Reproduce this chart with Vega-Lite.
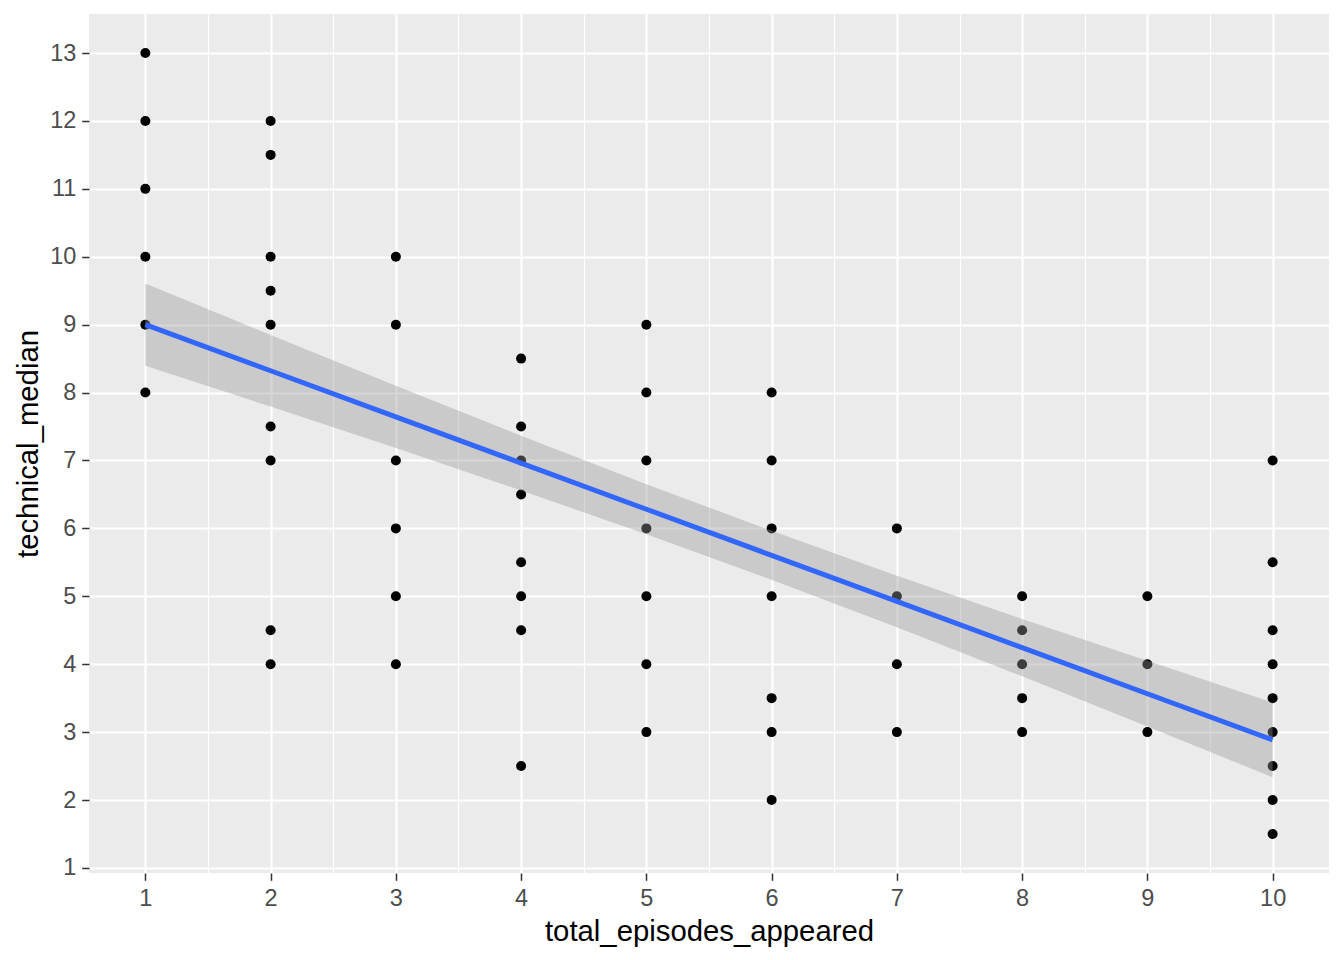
{
  "$schema": "https://vega.github.io/schema/vega-lite/v6.json",
  "autosize": "none",
  "width": 1240,
  "height": 859,
  "padding": {"left": 89, "top": 14, "right": 15, "bottom": 87},
  "background": "white",
  "config": {
    "view": {"fill": "#EBEBEB", "stroke": null},
    "font": "Liberation Sans",
    "axis": {
      "domain": false,
      "labelFont": "Liberation Sans",
      "titleFont": "Liberation Sans",
      "labelFontSize": 23.5,
      "labelColor": "#4D4D4D",
      "titleFontSize": 29.3,
      "titleFontWeight": "normal",
      "titleColor": "#000000",
      "tickColor": "#333333",
      "tickSize": 7.3,
      "tickWidth": 1.5,
      "labelPadding": 5.9,
      "gridColor": "#FFFFFF",
      "gridOpacity": 1,
      "format": "d"
    }
  },
  "datasets": {
    "pts": [
      {"total_episodes_appeared": 1, "technical_median": 13},
      {"total_episodes_appeared": 1, "technical_median": 12},
      {"total_episodes_appeared": 1, "technical_median": 11},
      {"total_episodes_appeared": 1, "technical_median": 10},
      {"total_episodes_appeared": 1, "technical_median": 9},
      {"total_episodes_appeared": 1, "technical_median": 8},
      {"total_episodes_appeared": 2, "technical_median": 12},
      {"total_episodes_appeared": 2, "technical_median": 11.5},
      {"total_episodes_appeared": 2, "technical_median": 10},
      {"total_episodes_appeared": 2, "technical_median": 9.5},
      {"total_episodes_appeared": 2, "technical_median": 9},
      {"total_episodes_appeared": 2, "technical_median": 7.5},
      {"total_episodes_appeared": 2, "technical_median": 7},
      {"total_episodes_appeared": 2, "technical_median": 4.5},
      {"total_episodes_appeared": 2, "technical_median": 4},
      {"total_episodes_appeared": 3, "technical_median": 10},
      {"total_episodes_appeared": 3, "technical_median": 9},
      {"total_episodes_appeared": 3, "technical_median": 7},
      {"total_episodes_appeared": 3, "technical_median": 6},
      {"total_episodes_appeared": 3, "technical_median": 5},
      {"total_episodes_appeared": 3, "technical_median": 4},
      {"total_episodes_appeared": 4, "technical_median": 8.5},
      {"total_episodes_appeared": 4, "technical_median": 7.5},
      {"total_episodes_appeared": 4, "technical_median": 7},
      {"total_episodes_appeared": 4, "technical_median": 6.5},
      {"total_episodes_appeared": 4, "technical_median": 5.5},
      {"total_episodes_appeared": 4, "technical_median": 5},
      {"total_episodes_appeared": 4, "technical_median": 4.5},
      {"total_episodes_appeared": 4, "technical_median": 2.5},
      {"total_episodes_appeared": 5, "technical_median": 9},
      {"total_episodes_appeared": 5, "technical_median": 8},
      {"total_episodes_appeared": 5, "technical_median": 7},
      {"total_episodes_appeared": 5, "technical_median": 6},
      {"total_episodes_appeared": 5, "technical_median": 5},
      {"total_episodes_appeared": 5, "technical_median": 4},
      {"total_episodes_appeared": 5, "technical_median": 3},
      {"total_episodes_appeared": 6, "technical_median": 8},
      {"total_episodes_appeared": 6, "technical_median": 7},
      {"total_episodes_appeared": 6, "technical_median": 6},
      {"total_episodes_appeared": 6, "technical_median": 5},
      {"total_episodes_appeared": 6, "technical_median": 3.5},
      {"total_episodes_appeared": 6, "technical_median": 3},
      {"total_episodes_appeared": 6, "technical_median": 2},
      {"total_episodes_appeared": 7, "technical_median": 6},
      {"total_episodes_appeared": 7, "technical_median": 5},
      {"total_episodes_appeared": 7, "technical_median": 4},
      {"total_episodes_appeared": 7, "technical_median": 3},
      {"total_episodes_appeared": 8, "technical_median": 5},
      {"total_episodes_appeared": 8, "technical_median": 4.5},
      {"total_episodes_appeared": 8, "technical_median": 4},
      {"total_episodes_appeared": 8, "technical_median": 3.5},
      {"total_episodes_appeared": 8, "technical_median": 3},
      {"total_episodes_appeared": 9, "technical_median": 5},
      {"total_episodes_appeared": 9, "technical_median": 4},
      {"total_episodes_appeared": 9, "technical_median": 3},
      {"total_episodes_appeared": 10, "technical_median": 7},
      {"total_episodes_appeared": 10, "technical_median": 5.5},
      {"total_episodes_appeared": 10, "technical_median": 4.5},
      {"total_episodes_appeared": 10, "technical_median": 4},
      {"total_episodes_appeared": 10, "technical_median": 3.5},
      {"total_episodes_appeared": 10, "technical_median": 3},
      {"total_episodes_appeared": 10, "technical_median": 2.5},
      {"total_episodes_appeared": 10, "technical_median": 2},
      {"total_episodes_appeared": 10, "technical_median": 1.5}
    ],
    "fit": [
      {"total_episodes_appeared": 1, "fit": 9.0, "lo": 8.395, "hi": 9.605},
      {"total_episodes_appeared": 2, "fit": 8.321, "lo": 7.794, "hi": 8.848},
      {"total_episodes_appeared": 3, "fit": 7.641, "lo": 7.183, "hi": 8.099},
      {"total_episodes_appeared": 4, "fit": 6.962, "lo": 6.559, "hi": 7.365},
      {"total_episodes_appeared": 5, "fit": 6.282, "lo": 5.913, "hi": 6.651},
      {"total_episodes_appeared": 6, "fit": 5.603, "lo": 5.242, "hi": 5.964},
      {"total_episodes_appeared": 7, "fit": 4.924, "lo": 4.544, "hi": 5.304},
      {"total_episodes_appeared": 8, "fit": 4.244, "lo": 3.821, "hi": 4.667},
      {"total_episodes_appeared": 9, "fit": 3.565, "lo": 3.081, "hi": 4.049},
      {"total_episodes_appeared": 10, "fit": 2.885, "lo": 2.335, "hi": 3.435}
    ]
  },
  "layer": [
    {
      "data": {"name": "pts"},
      "mark": {"type": "circle", "color": "#000000", "opacity": 1, "size": 100},
      "encoding": {
        "x": {
          "field": "total_episodes_appeared",
          "type": "quantitative",
          "title": "total_episodes_appeared",
          "scale": {"domain": [0.55, 10.45], "nice": false, "zero": false},
          "axis": {
            "values": [1, 1.5, 2, 2.5, 3, 3.5, 4, 4.5, 5, 5.5, 6, 6.5, 7, 7.5, 8, 8.5, 9, 9.5, 10],
            "labelExpr": "datum.value % 1 != 0 ? '' : datum.label",
            "grid": true,
            "gridWidth": {"condition": {"test": "datum.value % 1 != 0", "value": 1.2}, "value": 2.2},
            "tickOpacity": {"condition": {"test": "datum.value % 1 != 0", "value": 0}, "value": 1},
            "titlePadding": 8
          }
        },
        "y": {
          "field": "technical_median",
          "type": "quantitative",
          "title": "technical_median",
          "scale": {"domain": [0.925, 13.575], "nice": false, "zero": false},
          "axis": {
            "values": [1, 1.5, 2, 2.5, 3, 3.5, 4, 4.5, 5, 5.5, 6, 6.5, 7, 7.5, 8, 8.5, 9, 9.5, 10, 10.5, 11, 11.5, 12, 12.5, 13, 13.5],
            "labelExpr": "datum.value % 1 != 0 ? '' : datum.label",
            "grid": true,
            "gridWidth": {"condition": {"test": "datum.value % 1 != 0", "value": 1.2}, "value": 2.2},
            "tickOpacity": {"condition": {"test": "datum.value % 1 != 0", "value": 0}, "value": 1},
            "titlePadding": 6
          }
        }
      }
    },
    {
      "data": {"name": "fit"},
      "mark": {"type": "area", "color": "#999999", "opacity": 0.4},
      "encoding": {
        "x": {"field": "total_episodes_appeared", "type": "quantitative", "title": "total_episodes_appeared", "scale": {"domain": [0.55, 10.45], "nice": false, "zero": false}},
        "y": {"field": "lo", "type": "quantitative", "title": "technical_median", "scale": {"domain": [0.925, 13.575], "nice": false, "zero": false}},
        "y2": {"field": "hi"}
      }
    },
    {
      "data": {"name": "fit"},
      "mark": {"type": "line", "color": "#3366FF", "strokeWidth": 5},
      "encoding": {
        "x": {"field": "total_episodes_appeared", "type": "quantitative", "title": "total_episodes_appeared", "scale": {"domain": [0.55, 10.45], "nice": false, "zero": false}},
        "y": {"field": "fit", "type": "quantitative", "title": "technical_median", "scale": {"domain": [0.925, 13.575], "nice": false, "zero": false}}
      }
    }
  ]
}
